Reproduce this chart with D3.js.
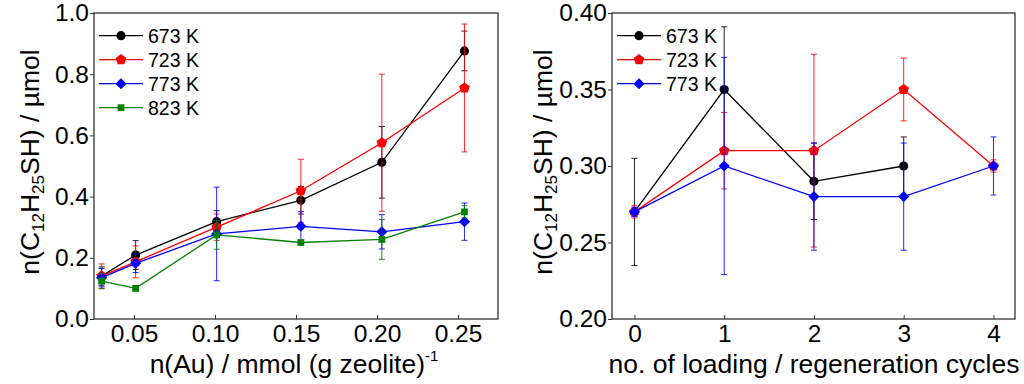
<!DOCTYPE html>
<html>
<head>
<meta charset="utf-8">
<script src="https://cdn.jsdelivr.net/npm/d3@7"></script>
<style>
  body { margin: 0; background: #fff; }
  text { font-family: 'Liberation Sans', Arial, sans-serif; }
</style>
</head>
<body>
<div id="chart"></div>
<script>
// ---- data ----
var tempLabels = ["673 K", "723 K", "773 K", "823 K"];
var seriesColors = ["#000000", "#ff0000", "#0000ff", "#008000"];

// left panel: uptake vs Au loading
var leftX = [0.03, 0.051, 0.101, 0.153, 0.203, 0.254];
var left673 = [0.14, 0.209, 0.318, 0.388, 0.512, 0.876];
var left673Err = [0.03, 0.047, 0.036, 0.045, 0.117, 0.065];
var left723 = [0.14, 0.187, 0.30, 0.419, 0.576, 0.755];
var left723Err = [0.04, 0.052, 0.043, 0.103, 0.224, 0.209];
var left773 = [0.135, 0.182, 0.278, 0.303, 0.285, 0.318];
var left773Err = [0.03, 0.03, 0.153, 0.048, 0.056, 0.061];
var left823 = [0.124, 0.10, 0.275, 0.25, 0.26, 0.35];
var left823Err = [0.025, 0, 0.047, 0, 0.065, 0.02];
var leftYTicks = [0, 0.2, 0.4, 0.6, 0.8, 1.0];
var leftXTicks = [0.05, 0.10, 0.15, 0.20, 0.25];

// right panel: uptake vs regeneration cycles
var rightX = [0, 1, 2, 3, 4];
var right673 = [0.27, 0.35, 0.29, 0.30];
var right673Err = [0.035, 0.041, 0.025, 0.019];
var right723 = [0.27, 0.31, 0.31, 0.35, 0.30];
var right723Err = [0.004, 0.025, 0.063, 0.0205, 0.004];
var right773 = [0.27, 0.30, 0.28, 0.28, 0.30];
var right773Err = [0.003, 0.071, 0.035, 0.035, 0.019];
var rightYTicks = [0.20, 0.25, 0.30, 0.35, 0.40];
var rightXTicks = [0, 1, 2, 3, 4];

var svg = d3.select("#chart")
  .append("svg")
  .attr("width", 1024)
  .attr("height", 384);

// pentagon marker for the 723 K series
var symbolPentagon = {
  draw: function(context, size) {
    var r = Math.sqrt(size / 2.378);
    for (var i = 0; i < 5; i++) {
      var a = -Math.PI / 2 + i * 2 * Math.PI / 5;
      if (i === 0) context.moveTo(r * Math.cos(a), r * Math.sin(a));
      else context.lineTo(r * Math.cos(a), r * Math.sin(a));
    }
    context.closePath();
  }
};
// square diamond (equal width and height)
var symbolRhomb = {
  draw: function(context, size) {
    var r = Math.sqrt(size / 2);
    context.moveTo(0, -r);
    context.lineTo(r, 0);
    context.lineTo(0, r);
    context.lineTo(-r, 0);
    context.closePath();
  }
};
var markerTypes = [d3.symbolCircle, symbolPentagon, symbolRhomb, d3.symbolSquare];
var markerSizes = [66, 74, 62, 46];
var fontFam = "'Liberation Sans', Arial, sans-serif";

function drawPanel(p) {
  var x = d3.scaleLinear().domain(p.xDomain).range([p.left, p.right]);
  var y = d3.scaleLinear().domain(p.yDomain).range([p.bottom, p.top]);
  var g = svg.append("g");

  // x axis, ticks pointing inward
  g.append("g")
    .attr("transform", `translate(0, ${p.bottom})`)
    .call(d3.axisBottom(x).tickValues(p.xTicks).tickFormat(p.xFormat).tickSize(-4).tickPadding(6))
    .call(a => a.select(".domain").remove())
    .call(a => a.selectAll("line").attr("stroke", "#333"))
    .call(a => a.selectAll("text").attr("font-size", "24.5px").attr("fill", "#000")
      .attr("font-family", fontFam));

  // y axis, ticks pointing outward
  g.append("g")
    .attr("transform", `translate(${p.left}, 0)`)
    .call(d3.axisLeft(y).tickValues(p.yTicks).tickFormat(p.yFormat).tickSize(4).tickPadding(1))
    .call(a => a.select(".domain").remove())
    .call(a => a.selectAll("line").attr("stroke", "#333"))
    .call(a => a.selectAll("text").attr("font-size", "24.5px").attr("fill", "#000")
      .attr("font-family", fontFam));

  // frame
  g.append("rect")
    .attr("x", p.left).attr("y", p.top)
    .attr("width", p.right - p.left).attr("height", p.bottom - p.top)
    .attr("fill", "none").attr("stroke", "#333").attr("stroke-width", 1.3);

  var line = d3.line().x(d => x(d.x)).y(d => y(d.y));

  p.series.forEach(function(s, i) {
    var pts = s.values.map((v, j) => ({ x: p.xs[j], y: v, e: s.errs[j] }));
    var sg = g.append("g");
    var col = seriesColors[i];

    // error bars
    var eb = sg.selectAll(".err").data(pts.filter(d => d.e > 0)).enter().append("g");
    eb.append("line")
      .attr("x1", d => x(d.x)).attr("x2", d => x(d.x))
      .attr("y1", d => y(d.y - d.e)).attr("y2", d => y(d.y + d.e))
      .attr("stroke", col).attr("stroke-width", 1).attr("opacity", 0.85);
    [-1, 1].forEach(function(sgn) {
      eb.append("line")
        .attr("x1", d => x(d.x) - 3).attr("x2", d => x(d.x) + 3)
        .attr("y1", d => y(d.y + sgn * d.e)).attr("y2", d => y(d.y + sgn * d.e))
        .attr("stroke", col).attr("stroke-width", 1).attr("opacity", 0.85);
    });

    sg.append("path")
      .datum(pts)
      .attr("d", line)
      .attr("fill", "none")
      .attr("stroke", col)
      .attr("stroke-width", 1.3);

    sg.selectAll(".pt").data(pts).enter().append("path")
      .attr("transform", d => `translate(${x(d.x)}, ${y(d.y)})`)
      .attr("d", d3.symbol().type(markerTypes[i]).size(markerSizes[i]))
      .attr("fill", col);

    // legend entry
    var ly = p.top + 22.7 + i * 24;
    var lg = g.append("g");
    lg.append("line")
      .attr("x1", p.left + 5).attr("x2", p.left + 49)
      .attr("y1", ly).attr("y2", ly)
      .attr("stroke", col).attr("stroke-width", 1.3);
    lg.append("path")
      .attr("transform", `translate(${p.left + 27}, ${ly})`)
      .attr("d", d3.symbol().type(markerTypes[i]).size(markerSizes[i]))
      .attr("fill", col);
    lg.append("text")
      .attr("x", p.left + 54).attr("y", ly + 6.8)
      .attr("font-size", "19.5px")
      .text(tempLabels[i]);
  });

  // y title with subscripts
  var yt = g.append("text")
    .attr("transform", `translate(${p.yTitleX}, ${(p.top + p.bottom) / 2 - 4}) rotate(-90)`)
    .attr("text-anchor", "middle")
    .attr("font-size", "26.5px");
  yt.append("tspan").text("n(C");
  yt.append("tspan").attr("font-size", "17px").attr("dy", 5).text("12");
  yt.append("tspan").attr("dy", -5).text("H");
  yt.append("tspan").attr("font-size", "17px").attr("dy", 5).text("25");
  yt.append("tspan").attr("dy", -5).text("SH) / µmol");

  // x title
  var xt = g.append("text")
    .attr("x", p.xTitleX).attr("y", 373)
    .attr("text-anchor", "middle")
    .attr("font-size", "26.5px");
  p.xTitle(xt);
}

drawPanel({
  left: 94, right: 498, top: 13, bottom: 319,
  xDomain: [0.0253, 0.2747], yDomain: [0, 1],
  xTicks: leftXTicks, yTicks: leftYTicks,
  xFormat: d3.format(".2f"), yFormat: d3.format(".1f"),
  xs: leftX,
  series: [
    { values: left673, errs: left673Err },
    { values: left723, errs: left723Err },
    { values: left773, errs: left773Err },
    { values: left823, errs: left823Err }
  ],
  yTitleX: 39, xTitleX: 294,
  xTitle: function(t) {
    t.append("tspan").text("n(Au) / mmol (g zeolite)");
    t.append("tspan").attr("font-size", "15px").attr("dy", -12).text("-1");
  }
});

drawPanel({
  left: 612, right: 1015, top: 13, bottom: 319,
  xDomain: [-0.25, 4.24], yDomain: [0.20, 0.40],
  xTicks: rightXTicks, yTicks: rightYTicks,
  xFormat: d3.format("d"), yFormat: d3.format(".2f"),
  xs: rightX,
  series: [
    { values: right673, errs: right673Err },
    { values: right723, errs: right723Err },
    { values: right773, errs: right773Err }
  ],
  yTitleX: 552, xTitleX: 814,
  xTitle: function(t) {
    t.append("tspan").text("no. of loading / regeneration cycles");
  }
});
</script>
</body>
</html>
